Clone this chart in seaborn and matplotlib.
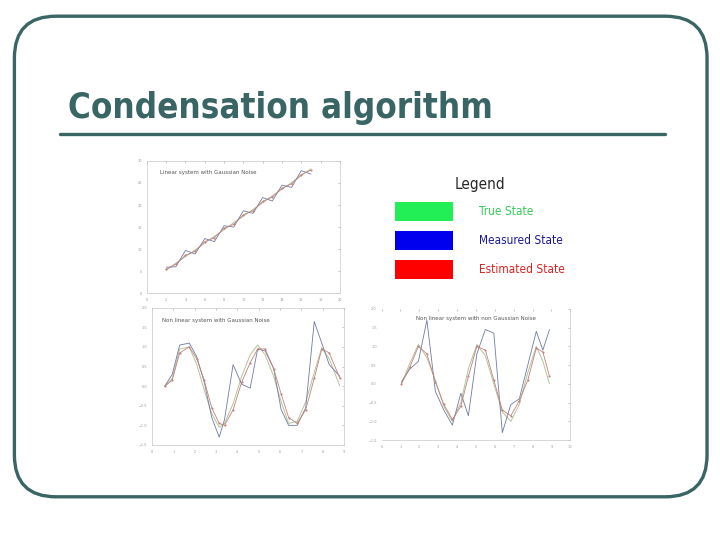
import matplotlib
matplotlib.use("Agg")
import matplotlib.pyplot as plt
import seaborn as sns
from matplotlib.patches import FancyBboxPatch, Patch
from matplotlib.lines import Line2D

sns.set_style("white")
plt.rcParams["font.family"] = ["DejaVu Sans"]

SLIDE = "#3a6565"
TRUE_C = "#b3c39b"
MEAS_C = "#6f7aa6"
EST_C = "#c0837a"

# linear system with gaussian noise
x1 = [2, 3, 4, 5, 6, 7, 8, 9, 10, 11, 12, 13, 14, 15, 16, 17]
true1 = [5.2, 6.8, 8.3, 9.8, 11.4, 12.9, 14.4, 16.0, 17.5, 19.0, 20.5, 22.1, 23.6, 25.1, 26.7, 28.2]
meas1 = [5.9, 6.0, 9.7, 8.9, 12.4, 11.7, 15.3, 15.0, 18.7, 18.1, 21.7, 20.9, 24.5, 24.0, 27.8, 27.0]
est1 = [5.4, 6.6, 8.6, 9.5, 11.7, 12.6, 14.7, 15.6, 17.8, 18.7, 20.8, 21.8, 23.8, 24.8, 26.9, 27.9]

# non linear system with gaussian noise
x2 = [0.6, 0.95, 1.3, 1.75, 2.1, 2.45, 2.8, 3.15, 3.4, 3.8, 4.2, 4.6,
      4.95, 5.3, 5.7, 6.05, 6.4, 6.8, 7.2, 7.6, 7.95, 8.3, 8.8]
true2 = [0.0, 0.2, 0.95, 1.0, 0.55, -0.1, -0.7, -1.05, -0.95, -0.45, 0.25, 0.8,
         1.05, 0.8, 0.25, -0.4, -0.95, -0.9, -0.4, 0.35, 0.98, 0.7, 0.0]
meas2 = [0.0, 0.3, 1.05, 1.1, 0.75, 0.1, -0.8, -1.3, -0.85, 0.55, 0.05, -0.05,
         0.95, 0.9, 0.45, -0.6, -1.0, -1.0, -0.55, 1.65, 1.1, 0.55, 0.25]
est2 = [0.0, 0.15, 0.85, 1.0, 0.7, 0.15, -0.55, -0.95, -1.0, -0.6, 0.1, 0.6,
        0.95, 0.95, 0.45, -0.2, -0.8, -0.95, -0.6, 0.2, 0.95, 0.85, 0.2]

# non linear system with non gaussian noise
x3 = [1.05, 1.5, 1.95, 2.4, 2.85, 3.3, 3.75, 4.2, 4.6, 5.05,
      5.5, 5.95, 6.4, 6.85, 7.3, 7.75, 8.2, 8.55, 8.9]
true3 = [0.0, 0.55, 1.05, 0.7, 0.1, -0.6, -1.0, -0.5, 0.4, 1.05,
         0.75, 0.0, -0.75, -1.0, -0.55, 0.3, 1.0, 0.6, 0.0]
meas3 = [0.05, 0.4, 0.6, 1.7, -0.2, -0.7, -1.1, -0.25, -0.85, 0.8,
         1.45, 1.35, -1.3, -0.55, -0.4, 0.5, 1.4, 0.9, 1.45]
est3 = [0.0, 0.45, 1.0, 0.8, 0.05, -0.55, -0.95, -0.6, 0.2, 1.0,
        0.9, 0.1, -0.7, -0.85, -0.45, 0.1, 0.95, 0.85, 0.2]

legend_labels = ["True State", "Measured State", "Estimated State"]
legend_fill = ["#22ee55", "#0000ee", "#ff0000"]
legend_text = ["#33cc55", "#1a1a99", "#dd2222"]


def small_plot(ax, x, true, meas, est, title, xlim, xticks, ylim, yticks, title_pos):
    sns.lineplot(x=x, y=true, ax=ax, color=TRUE_C, linewidth=0.7, sort=False)
    sns.lineplot(x=x, y=meas, ax=ax, color=MEAS_C, linewidth=0.6, sort=False)
    sns.lineplot(x=x, y=est, ax=ax, color=EST_C, linewidth=0.6, sort=False,
                 marker="o", markersize=1.5, markeredgewidth=0)
    ax.set_xlim(*xlim)
    ax.set_ylim(*ylim)
    ax.set_xticks(xticks)
    ax.set_yticks(yticks)
    ax.tick_params(labelsize=2.5, colors="#999999", length=1.5, width=0.4,
                   direction="in", top=True, right=True)
    for s in ax.spines.values():
        s.set_color("#c8c8c8")
        s.set_linewidth(0.5)
    ha = "center" if title_pos[0] == 0.5 else "left"
    ax.text(title_pos[0], title_pos[1], title, transform=ax.transAxes,
            fontsize=4, color="#555555", ha=ha, va="center")


fig = plt.figure(figsize=(7.2, 5.4), dpi=100)

# slide frame and title
fig.patches.append(FancyBboxPatch((0.020, 0.080), 0.962, 0.890,
                                  boxstyle="round,pad=0,rounding_size=0.058",
                                  transform=fig.transFigure, fill=False,
                                  edgecolor=SLIDE, linewidth=2.4,
                                  mutation_aspect=720 / 540))
fig.text(0.094, 0.800, "Condensation algorithm", fontsize=25, fontweight="heavy",
         fontstretch="condensed", color=SLIDE, ha="left", va="center")
fig.add_artist(Line2D([0.083, 0.924], [0.752, 0.752], transform=fig.transFigure,
                      color=SLIDE, linewidth=2.4))

ax1 = fig.add_axes([0.204, 0.457, 0.268, 0.245])
small_plot(ax1, x1, true1, meas1, est1, "Linear system with Gaussian Noise",
           (0, 20), range(0, 21, 2), (0, 30), range(0, 31, 5), (0.07, 0.91))

ax2 = fig.add_axes([0.211, 0.176, 0.267, 0.254])
small_plot(ax2, x2, true2, meas2, est2, "Non linear system with Gaussian Noise",
           (0, 9), range(0, 10), (-1.5, 2.0), [-1.5, -1, -0.5, 0, 0.5, 1, 1.5, 2],
           (0.05, 0.91))

ax3 = fig.add_axes([0.530, 0.185, 0.262, 0.243])
small_plot(ax3, x3, true3, meas3, est3, "Non linear system with non Gaussian Noise",
           (0, 10), range(0, 11), (-1.5, 2.0), [-1.5, -1, -0.5, 0, 0.5, 1, 1.5, 2],
           (0.5, 0.93))
ax3.spines["left"].set_visible(False)
ax3.spines["top"].set_visible(False)

# legend picture
handles = [Patch(facecolor=c, edgecolor="none") for c in legend_fill]
leg = fig.legend(handles, legend_labels, title="Legend", loc="center",
                 bbox_to_anchor=(0.667, 0.578), frameon=False,
                 prop={"family": "DejaVu Sans", "stretch": "condensed", "size": 8.5},
                 title_fontproperties={"family": "DejaVu Sans", "stretch": "condensed", "size": 11},
                 handlelength=4.9, handleheight=2.03,
                 labelspacing=0.88, handletextpad=2.2)
for t, c in zip(leg.get_texts(), legend_text):
    t.set_color(c)

fig.savefig("out.png", dpi=100)
